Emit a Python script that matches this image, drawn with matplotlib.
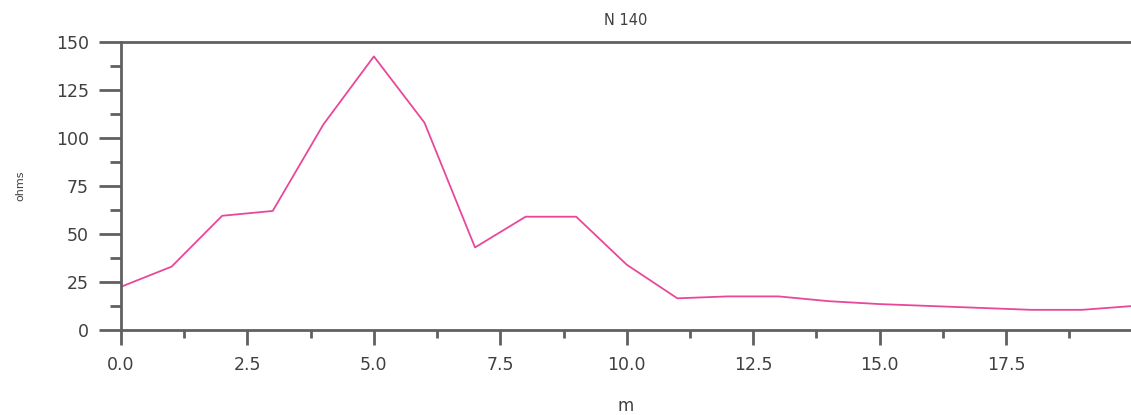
import matplotlib
matplotlib.use("Agg")
import matplotlib.pyplot as plt
from matplotlib.ticker import MultipleLocator

# distance (m) and resistance (ohms)
distance = [0, 1, 2, 3, 4, 5, 6, 7, 8, 9, 10, 11, 12, 13, 14, 15, 16, 17, 18, 19, 20]
ohms = [22.5, 33, 59.5, 62, 107, 142.5, 108, 43, 59, 59, 34, 16.5, 17.5, 17.5, 15, 13.5,
        12.5, 11.5, 10.5, 10.5, 12.5]

title = "N 140"
line_color = "#e8489a"
axis_color = "#606060"
text_color = "#404040"

plt.rcParams['font.family'] = ['DejaVu Sans']

fig = plt.figure(figsize=(11.31, 4.15), dpi=100)
ax = fig.add_axes([121 / 1131, 1 - 330 / 415, 1 - 121 / 1131, (330 - 42) / 415])

ax.plot(distance, ohms, color=line_color, linewidth=1.3)

# stop just short of 20 so the 20.0 label is not drawn, as in the reference
ax.set_xlim(0, 19.97)
ax.set_ylim(0, 150)
ax.xaxis.set_major_locator(MultipleLocator(2.5))
ax.xaxis.set_minor_locator(MultipleLocator(1.25))
ax.yaxis.set_major_locator(MultipleLocator(25))
ax.yaxis.set_minor_locator(MultipleLocator(12.5))
ax.xaxis.set_major_formatter(plt.FuncFormatter(lambda v, p: f"{v:.1f}"))

for side in ['left', 'bottom', 'top']:
    ax.spines[side].set_color(axis_color)
    ax.spines[side].set_linewidth(2)
ax.spines['right'].set_visible(False)

ax.tick_params(axis='y', which='major', direction='out', length=16, width=2,
               color=axis_color, labelsize=12.5, labelcolor=text_color, pad=7)
ax.tick_params(axis='y', which='minor', direction='out', length=8, width=2, color=axis_color)
ax.tick_params(axis='x', which='major', direction='out', length=11, width=2,
               color=axis_color, labelsize=12.5, labelcolor=text_color, pad=8)
ax.tick_params(axis='x', which='minor', direction='out', length=6, width=2, color=axis_color)

ax.set_title(title, fontsize=10.5, color=text_color, pad=12)
ax.set_xlabel("m", fontsize=12, color=text_color, labelpad=16)
ax.set_ylabel("ohms", fontsize=8, color=text_color, labelpad=22)

fig.savefig("out.png", dpi=100)
